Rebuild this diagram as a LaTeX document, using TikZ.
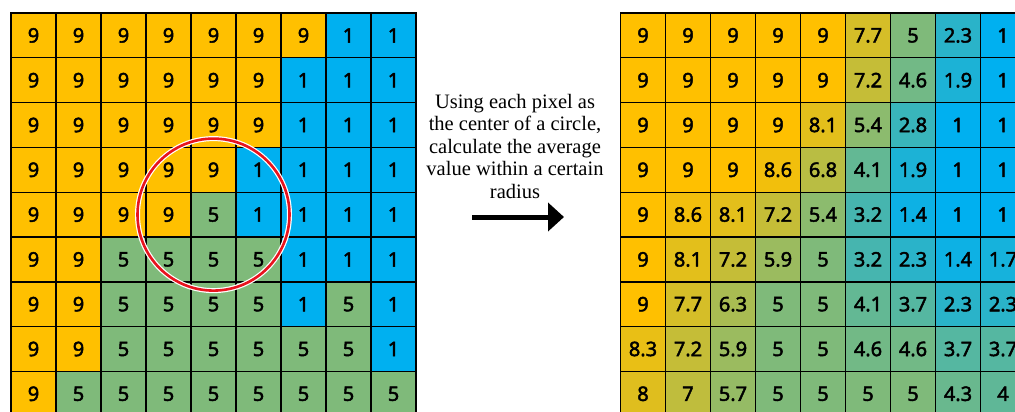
\documentclass[tikz,border=0pt]{standalone}
\usepackage{fontspec}
\setmainfont{Liberation Serif}
\newfontfamily\cellfont{Noto Sans}[FakeBold=2.2]
\usetikzlibrary{arrows.meta}
\definecolor{ylw}{RGB}{255,192,0}
\definecolor{grn}{RGB}{127,186,122}
\definecolor{blu}{RGB}{0,176,240}
\definecolor{ringred}{RGB}{232,20,30}
\begin{document}
\begin{tikzpicture}[x=1pt,y=-1pt,
  cell/.style={draw=black, line width=1.4pt, minimum width=45pt, minimum height=44.8pt,
    inner sep=0pt, text=black, font=\cellfont\fontsize{20}{20}\selectfont},
  caption/.style={font=\fontsize{20.5}{22.5}\selectfont, align=center, inner sep=0pt},
  bigarrow/.style={line width=5pt, -{Triangle[length=16pt,width=28pt]}},
  ring/.style={ringred, line width=2.6pt},
  ringhalo/.style={white, line width=5pt}]
\useasboundingbox (0,0) rectangle (1015,412);
\clip (0,0) rectangle (1015,412);
% left grid
\foreach \row [count=\r] in {
  {9,9,9,9,9,9,9,1,1},
  {9,9,9,9,9,9,1,1,1},
  {9,9,9,9,9,9,1,1,1},
  {9,9,9,9,9,1,1,1,1},
  {9,9,9,9,5,1,1,1,1},
  {9,9,5,5,5,5,1,1,1},
  {9,9,5,5,5,5,1,5,1},
  {9,9,5,5,5,5,5,5,1},
  {9,5,5,5,5,5,5,5,5}} {
  \foreach \v [count=\c] in \row {
    \pgfmathtruncatemacro{\hi}{\v>4.99}
    \pgfmathtruncatemacro{\t}{\hi==1 ? round((\v-5)*25) : round((\v-1)*25)}
    \ifnum\hi=1 \def\fc{ylw!\t!grn}\else\def\fc{grn!\t!blu}\fi
    \node[cell, fill=\fc] (L-\r-\c) at ({11+45*(\c-0.5)},{13+44.8*(\r-0.5)}) {\v};
  }
}
% right grid
\foreach \row [count=\r] in {
  {9,9,9,9,9,7.7,5,2.3,1},
  {9,9,9,9,9,7.2,4.6,1.9,1},
  {9,9,9,9,8.1,5.4,2.8,1,1},
  {9,9,9,8.6,6.8,4.1,1.9,1,1},
  {9,8.6,8.1,7.2,5.4,3.2,1.4,1,1},
  {9,8.1,7.2,5.9,5,3.2,2.3,1.4,1.7},
  {9,7.7,6.3,5,5,4.1,3.7,2.3,2.3},
  {8.3,7.2,5.9,5,5,4.6,4.6,3.7,3.7},
  {8,7,5.7,5,5,5,5,4.3,4}} {
  \foreach \v [count=\c] in \row {
    \pgfmathtruncatemacro{\hi}{\v>4.99}
    \pgfmathtruncatemacro{\t}{\hi==1 ? round((\v-5)*25) : round((\v-1)*25)}
    \ifnum\hi=1 \def\fc{ylw!\t!grn}\else\def\fc{grn!\t!blu}\fi
    \node[cell, fill=\fc] (R-\r-\c) at ({620.5+45*(\c-0.5)},{13+44.8*(\r-0.5)}) {\v};
  }
}
% circle
\draw[ringhalo] (L-5-5.center) circle[radius=76];
\draw[ring] (L-5-5.center) circle[radius=76];
% caption and arrow
\node[caption] (txt) at (515,146) {Using each pixel as\\the center of a circle,\\calculate the average\\value within a certain\\radius};
\coordinate (a1) at (472,217);
\coordinate (a2) at (564,217);
\draw[bigarrow] (a1) -- (a2);
\end{tikzpicture}
\end{document}
